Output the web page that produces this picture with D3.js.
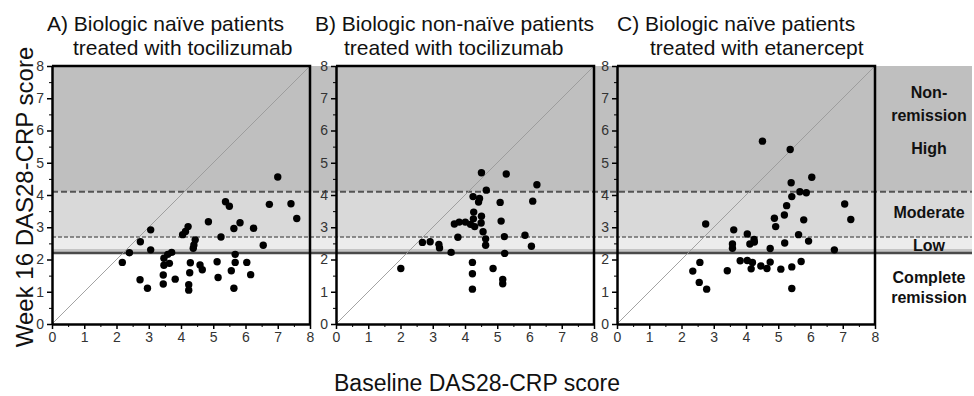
<!DOCTYPE html>
<html>
<head>
<meta charset="utf-8">
<script src="https://cdn.jsdelivr.net/npm/d3@7"></script>
<style>
  body { margin: 0; background: #fff; }
  svg { display: block; }
  text { font-family: "Liberation Sans", Arial, sans-serif; }
</style>
</head>
<body>
<div class="chart"></div>
<script>
// panel titles (two lines each)
const titleLine1 = ["A) Biologic naïve patients", "B) Biologic non-naïve patients", "C) Biologic naïve patients"];
const titleLine2 = ["treated with tocilizumab", "treated with tocilizumab", "treated with etanercept"];

// A) biologic naive, tocilizumab
const aBaseline = [7.00, 6.74, 7.41, 7.59, 5.38, 5.50, 4.85, 5.83, 5.64, 6.25, 5.24, 6.55, 5.68, 5.12, 5.68, 6.04, 5.56, 6.16, 5.15, 5.64,
                   4.22, 4.14, 4.05, 4.44, 4.40, 4.38, 4.29, 4.59, 4.66, 4.27, 4.24, 4.24, 3.06, 3.06, 2.74, 2.40, 2.18, 2.73, 2.96,
                   3.71, 3.59, 3.47, 3.64, 3.47, 3.45, 3.45, 3.82];
const aWeek16 =   [4.56, 3.71, 3.73, 3.27, 3.79, 3.65, 3.17, 3.14, 2.96, 2.97, 2.70, 2.44, 2.16, 1.93, 1.91, 1.91, 1.65, 1.53, 1.44, 1.11,
                   3.02, 2.87, 2.77, 2.61, 2.45, 2.35, 1.90, 1.83, 1.68, 1.59, 1.22, 1.05, 2.92, 2.30, 2.55, 2.21, 1.91, 1.37, 1.11,
                   2.22, 2.16, 2.04, 1.88, 1.82, 1.52, 1.24, 1.39];

// B) biologic non-naive, tocilizumab
const bBaseline = [4.51, 5.28, 6.23, 4.66, 4.25, 4.45, 4.42, 5.09, 6.10, 4.27, 4.51, 4.26, 4.50, 5.12, 3.67, 3.82, 4.01, 4.17, 4.30, 4.56,
                   3.78, 4.64, 4.64, 5.22, 5.86, 6.06, 5.23, 2.68, 2.92, 3.19, 3.21, 3.57, 2.01, 4.23, 4.23, 4.23, 4.87, 5.17, 5.17];
const bWeek16 =   [4.69, 4.65, 4.32, 4.15, 3.95, 3.89, 3.78, 3.77, 3.81, 3.47, 3.34, 3.26, 3.13, 3.19, 3.10, 3.16, 3.16, 3.09, 3.02, 2.86,
                   2.69, 2.64, 2.44, 2.71, 2.75, 2.41, 2.19, 2.53, 2.55, 2.47, 2.36, 2.22, 1.72, 1.91, 1.56, 1.08, 1.72, 1.38, 1.25];

// C) biologic naive, etanercept
const cBaseline = [4.51, 5.37, 5.40, 6.04, 5.67, 5.87, 5.42, 7.06, 5.26, 5.19, 4.88, 5.79, 7.25, 4.92, 2.75, 3.62, 4.04, 4.25, 4.26, 4.12,
                   3.58, 3.58, 5.63, 5.94, 5.20, 4.75, 6.74, 2.57, 2.35, 2.55, 2.78, 3.42, 3.82, 4.04, 4.20, 4.16, 4.46, 4.65, 4.75,
                   5.08, 5.42, 5.71, 5.42];
const cWeek16 =   [5.67, 5.41, 4.38, 4.55, 4.10, 4.07, 3.95, 3.72, 3.67, 3.38, 3.28, 3.23, 3.24, 3.02, 3.10, 2.92, 2.79, 2.62, 2.54, 2.48,
                   2.48, 2.35, 2.77, 2.57, 2.51, 2.34, 2.30, 1.91, 1.64, 1.29, 1.08, 1.65, 1.96, 1.97, 1.91, 1.71, 1.80, 1.72, 1.92,
                   1.70, 1.77, 1.94, 1.10];

// disease activity cut-offs
const remissionCut = 2.2;
const lowCut = 2.7;
const moderateCut = 4.1;

const axisTicks = [0, 1, 2, 3, 4, 5, 6, 7, 8];
const bandLabels = ["Non-", "remission", "High", "Moderate", "Low", "Complete", "remission"];
const bandLabelValues = [7.19, 6.48, 5.46, 3.47, 2.45, 1.43, 0.81];

const panelData = [
  { b: aBaseline, w: aWeek16 },
  { b: bBaseline, w: bWeek16 },
  { b: cBaseline, w: cWeek16 }
];

// layout
const W = 974, H = 396;
const plotTop = 66, plotBottom = 324;
const panelLeft = [52, 336, 617];
const panelW = 258;
const title1Dx = [-5, -21, 0];
const title2Dx = [21, 8, 33];

const svg = d3.select(".chart").append("svg")
  .attr("width", W).attr("height", H);

const y = d3.scaleLinear().domain([0, 8]).range([plotBottom, plotTop]);
const bandRight = 972;

// background bands spanning all panels
const bands = [
  { lo: moderateCut, hi: 8, fill: "#bfbfbf" },
  { lo: lowCut, hi: moderateCut, fill: "#d9d9d9" },
  { lo: remissionCut, hi: lowCut, fill: "#ececec" }
];
svg.append("g").selectAll("rect").data(bands).join("rect")
  .attr("x", panelLeft[0]).attr("width", bandRight - panelLeft[0])
  .attr("y", d => y(d.hi)).attr("height", d => y(d.lo) - y(d.hi))
  .attr("fill", d => d.fill);

// cut-off lines
const lines = svg.append("g");
lines.append("line")
  .attr("x1", panelLeft[0]).attr("x2", bandRight)
  .attr("y1", y(remissionCut) - 2).attr("y2", y(remissionCut) - 2)
  .attr("stroke", "#c4c4c4").attr("stroke-width", 4);
lines.append("line")
  .attr("x1", panelLeft[0]).attr("x2", bandRight)
  .attr("y1", y(remissionCut)).attr("y2", y(remissionCut))
  .attr("stroke", "#4a4a4a").attr("stroke-width", 2.5);
lines.append("line")
  .attr("x1", panelLeft[0]).attr("x2", bandRight)
  .attr("y1", y(moderateCut)).attr("y2", y(moderateCut))
  .attr("stroke", "#555").attr("stroke-width", 2).attr("stroke-dasharray", "6,3");
lines.append("line")
  .attr("x1", panelLeft[0]).attr("x2", bandRight)
  .attr("y1", y(lowCut)).attr("y2", y(lowCut))
  .attr("stroke", "#6a6a6a").attr("stroke-width", 1.6).attr("stroke-dasharray", "4,2");

panelData.forEach((p, i) => {
  const x = d3.scaleLinear().domain([0, 8]).range([panelLeft[i], panelLeft[i] + panelW]);
  const g = svg.append("g");

  // identity line
  g.append("line")
    .attr("x1", x(0)).attr("y1", y(0)).attr("x2", x(8)).attr("y2", y(8))
    .attr("stroke", "#999").attr("stroke-width", 0.9);

  // frame (top, right)
  g.append("path")
    .attr("d", `M${x(0)},${y(8)}H${x(8)}V${y(0)}`)
    .attr("fill", "none").attr("stroke", "#000").attr("stroke-width", 2.5);

  // minor ticks
  g.append("g")
    .attr("transform", `translate(0,${y(0)})`)
    .call(d3.axisBottom(x).tickValues(d3.range(0.5, 8, 1)).tickSize(3).tickFormat(""))
    .call(a => a.select(".domain").remove());
  g.append("g")
    .attr("transform", `translate(${x(0)},0)`)
    .call(d3.axisLeft(y).tickValues(d3.range(0.5, 8, 1)).tickSize(3).tickFormat(""))
    .call(a => a.select(".domain").remove());

  const xAxis = g.append("g")
    .attr("transform", `translate(0,${y(0)})`)
    .call(d3.axisBottom(x).tickValues(axisTicks).tickSize(5).tickPadding(3).tickSizeOuter(0));
  const yAxis = g.append("g")
    .attr("transform", `translate(${x(0)},0)`)
    .call(d3.axisLeft(y).tickValues(axisTicks).tickSize(5).tickPadding(3).tickSizeOuter(0));

  [xAxis, yAxis].forEach(a => {
    a.select(".domain").attr("stroke-width", 2.5);
    a.selectAll(".tick line").attr("stroke-width", 1.5);
    a.selectAll(".tick text")
      .attr("font-family", "'Liberation Sans', Arial, sans-serif")
      .attr("font-size", 14).attr("fill", "#333");
  });
  svg.selectAll(".tick line").attr("stroke", "#000");

  // points
  g.append("g").selectAll("circle")
    .data(p.b.map((v, k) => [v, p.w[k]]))
    .join("circle")
    .attr("cx", d => x(d[0])).attr("cy", d => y(d[1]))
    .attr("r", 3.7).attr("fill", "#000");

  // titles
  svg.append("text")
    .attr("x", panelLeft[i] + title1Dx[i]).attr("y", 31)
    .attr("font-size", 21).attr("fill", "#111")
    .text(titleLine1[i]);
  svg.append("text")
    .attr("x", panelLeft[i] + title2Dx[i]).attr("y", 55)
    .attr("font-size", 21).attr("fill", "#111")
    .text(titleLine2[i]);
});

// band labels on the right
svg.append("g").selectAll("text").data(bandLabels).join("text")
  .attr("x", 929).attr("y", (d, k) => y(bandLabelValues[k]))
  .attr("dy", "0.35em")
  .attr("text-anchor", "middle")
  .attr("font-size", 16).attr("font-weight", "bold").attr("fill", "#111")
  .text(d => d);

// axis titles
svg.append("text")
  .attr("transform", `translate(33,197) rotate(-90)`)
  .attr("text-anchor", "middle")
  .attr("font-size", 24).attr("fill", "#111")
  .text("Week 16 DAS28-CRP score");

svg.append("text")
  .attr("x", 477).attr("y", 391)
  .attr("text-anchor", "middle")
  .attr("font-size", 23).attr("fill", "#111")
  .text("Baseline DAS28-CRP score");
</script>
</body>
</html>
